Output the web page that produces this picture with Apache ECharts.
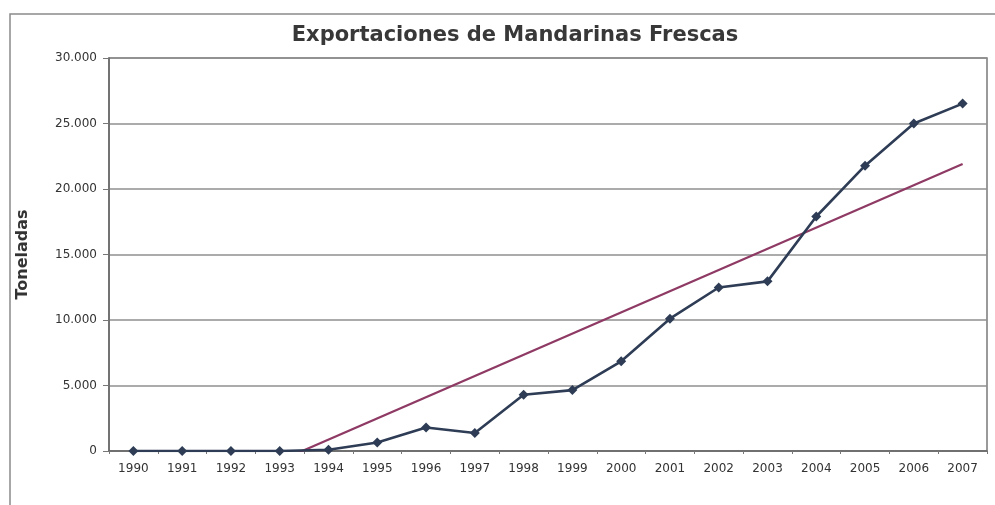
<!DOCTYPE html>
<html><head><meta charset="utf-8">
<script src="https://cdn.jsdelivr.net/npm/echarts@6/dist/echarts.min.js"></script>
<style>html,body{margin:0;padding:0;background:#fff}#c{width:995px;height:505px}</style>
</head><body><div id="c"></div>
<script>
var years = ['1990','1991','1992','1993','1994','1995','1996','1997','1998','1999','2000','2001','2002','2003','2004','2005','2006','2007'];
var toneladas = [0, 0, 0, 0, 100, 650, 1800, 1380, 4300, 4650, 6850, 10100, 12480, 12950, 17900, 21780, 25000, 26520];
// trend line endpoints (first and last category)
var trendStart = -5600;
var trendEnd = 21900;
var yTicks = [0, 5000, 10000, 15000, 20000, 25000, 30000];

var trend = years.map(function(y, i){ return i === 0 ? trendStart : (i === years.length - 1 ? trendEnd : null); });

var chart = echarts.init(document.getElementById('c'), null, {renderer:'canvas'});
chart.setOption({
  animation: false,
  backgroundColor: '#ffffff',
  graphic: [{type:'rect', shape:{x:10, y:14, width:1000, height:520}, style:{fill:'none', stroke:'#8a8a8a', lineWidth:1.5}, silent:true}],
  title: {text:'Exportaciones de Mandarinas Frescas', left:510, top:20, textAlign:'center',
    textStyle:{fontFamily:'DejaVu Sans', fontWeight:'bold', fontSize:21, color:'#383838'}},
  grid: {left:109, right:8, top:58, bottom:54, show:true, borderColor:'#7a7a7a', borderWidth:1.5, backgroundColor:'transparent'},
  xAxis: {type:'category', data:years, boundaryGap:true,
    axisLine:{lineStyle:{color:'#666', width:1.5}},
    axisTick:{show:true, length:3, lineStyle:{color:'#777'}},
    axisLabel:{fontFamily:'DejaVu Sans', fontSize:12, color:'#333', margin:12}},
  yAxis: {type:'value', min:0, max:30000, interval:5000,
    name:'Toneladas', nameLocation:'middle', nameGap:78, nameRotate:90,
    nameTextStyle:{fontFamily:'DejaVu Sans', fontWeight:'bold', fontSize:16, color:'#333'},
    axisLine:{show:true, lineStyle:{color:'#666', width:1.5}},
    axisTick:{show:true, length:6, lineStyle:{color:'#777'}},
    axisLabel:{fontFamily:'DejaVu Sans', fontSize:12, color:'#333', margin:12,
      formatter:function(v){ return v === 0 ? '0' : (v/1000).toFixed(0) + '.000'; }},
    splitLine:{show:true, lineStyle:{color:'#8f8f8f', width:1.5}}},
  series: [
    {name:'Tendencia', type:'line', data:trend, connectNulls:true, symbol:'none', clip:true,
      lineStyle:{color:'#8e3a64', width:2.2}, z:2},
    {name:'Toneladas', type:'line', data:toneladas, symbol:'diamond', symbolSize:10,
      itemStyle:{color:'#2e3d55'}, lineStyle:{color:'#2e3d55', width:2.6}, z:3}
  ]
});
</script></body></html>
